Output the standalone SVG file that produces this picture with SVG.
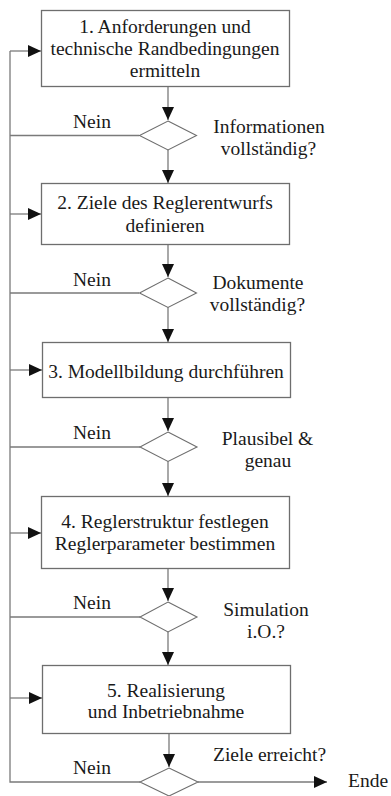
<svg xmlns="http://www.w3.org/2000/svg" width="391" height="796" viewBox="0 0 391 796">
<style>
.box{fill:#fff;stroke:#6e6e6e;stroke-width:1.3}
.dia{fill:#fff;stroke:#6e6e6e;stroke-width:1.1}
.ln{fill:none;stroke:#7a7a7a;stroke-width:1.3}
text{font-family:"Liberation Serif","Times New Roman",serif;font-size:19.5px;fill:#1a1a1a}
.c{text-anchor:middle}
</style>
<defs>
<marker id="ah" markerUnits="userSpaceOnUse" markerWidth="14" markerHeight="12" refX="13" refY="6" orient="auto">
<path d="M0,0 L13,6 L0,12 Z" fill="#111"/>
</marker>
</defs>
<rect width="391" height="796" fill="#fff"/>
<g id="connectors">
<path class="ln" d="M168,86 V120" marker-end="url(#ah)"/>
<path class="ln" d="M168,150 V183" marker-end="url(#ah)"/>
<path class="ln" d="M168,244 V277" marker-end="url(#ah)"/>
<path class="ln" d="M168,307 V342" marker-end="url(#ah)"/>
<path class="ln" d="M168,397 V431" marker-end="url(#ah)"/>
<path class="ln" d="M168,461 V496" marker-end="url(#ah)"/>
<path class="ln" d="M168,568 V601" marker-end="url(#ah)"/>
<path class="ln" d="M168,632 V665" marker-end="url(#ah)"/>
<path class="ln" d="M169,733 V767" marker-end="url(#ah)"/>
<path class="ln" d="M198,782 H327" marker-end="url(#ah)"/>
<path class="ln" d="M139,135.5 H10 M139,293 H10 M140,447 H10 M140,617 H10 M140,782 H10 V51"/>
<path class="ln" d="M10,51 H41" marker-end="url(#ah)"/>
<path class="ln" d="M10,214 H41" marker-end="url(#ah)"/>
<path class="ln" d="M10,370 H42" marker-end="url(#ah)"/>
<path class="ln" d="M10,533 H41" marker-end="url(#ah)"/>
<path class="ln" d="M10,698 H42" marker-end="url(#ah)"/>
</g>
<g id="box1">
<rect class="box" x="41.5" y="10.5" width="248" height="76"/>
<text class="c" x="165" y="33">1. Anforderungen und</text>
<text class="c" x="165" y="55">technische Randbedingungen</text>
<text class="c" x="165" y="77">ermitteln</text>
</g>
<g id="dec1">
<polygon class="dia" points="168,121 196.5,135.5 168,150 139.5,135.5"/>
<text class="c" x="269" y="133.3">Informationen</text>
<text class="c" x="268.5" y="155">vollständig?</text>
<text x="73" y="128.3">Nein</text>
</g>
<g id="box2">
<rect class="box" x="41.5" y="183.5" width="248" height="61"/>
<text class="c" x="165" y="209.3">2. Ziele des Reglerentwurfs</text>
<text class="c" x="165" y="231.7">definieren</text>
</g>
<g id="dec2">
<polygon class="dia" points="168,278 196.5,293 168,307.5 139.5,293"/>
<text class="c" x="258" y="289.3">Dokumente</text>
<text class="c" x="257.5" y="310.7">vollständig?</text>
<text x="73" y="285.7">Nein</text>
</g>
<g id="box3">
<rect class="box" x="42.5" y="342.5" width="248" height="55"/>
<text class="c" x="166" y="378.3">3. Modellbildung durchführen</text>
</g>
<g id="dec3">
<polygon class="dia" points="168,432 197,447 168,461.5 140,447"/>
<text class="c" x="267.5" y="445">Plausibel &amp;</text>
<text class="c" x="268" y="467.3">genau</text>
<text x="73" y="439.3">Nein</text>
</g>
<g id="box4">
<rect class="box" x="41.5" y="496.5" width="248" height="72"/>
<text class="c" x="165" y="527.7">4. Reglerstruktur festlegen</text>
<text class="c" x="165" y="550">Reglerparameter bestimmen</text>
</g>
<g id="dec4">
<polygon class="dia" points="168,602 197,617 168,632 140,617"/>
<text class="c" x="266" y="615.7">Simulation</text>
<text class="c" x="266" y="638.3">i.O.?</text>
<text x="73" y="609">Nein</text>
</g>
<g id="box5">
<rect class="box" x="42.5" y="665.5" width="248" height="68"/>
<text class="c" x="166" y="696.7">5. Realisierung</text>
<text class="c" x="166" y="718.3">und Inbetriebnahme</text>
</g>
<g id="dec5">
<polygon class="dia" points="169,768 198,782 169,796 140,782"/>
<text x="213" y="760.7">Ziele erreicht?</text>
<text x="73" y="774">Nein</text>
<text x="348" y="786.5">Ende</text>
</g>
</svg>
